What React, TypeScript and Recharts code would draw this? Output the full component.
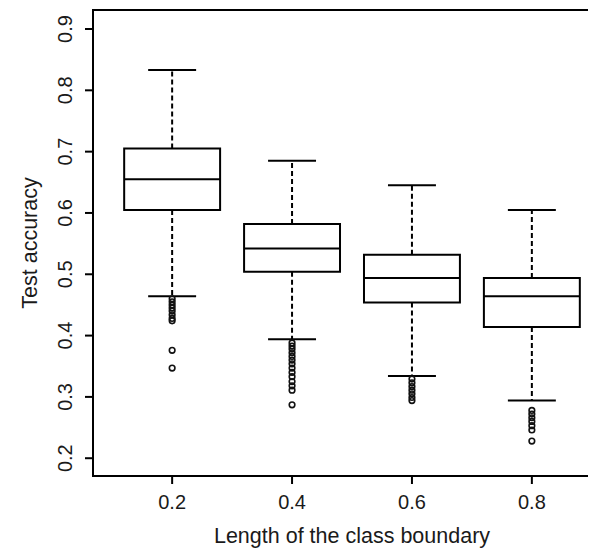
import React from "react";
import {
  ComposedChart,
  Scatter,
  XAxis,
  YAxis,
  ReferenceArea,
  ReferenceLine,
} from "recharts";

// boxplot stats
const positions = [0.2, 0.4, 0.6, 0.8];
const whiskerHigh = [0.833, 0.685, 0.645, 0.605];
const upperQuartile = [0.705, 0.582, 0.532, 0.494];
const medians = [0.655, 0.542, 0.494, 0.464];
const lowerQuartile = [0.605, 0.504, 0.454, 0.414];
const whiskerLow = [0.464, 0.394, 0.334, 0.294];

const outliers02 = [0.46, 0.455, 0.45, 0.445, 0.44, 0.434, 0.428, 0.424, 0.376, 0.347];
const outliers04 = [0.388, 0.383, 0.378, 0.372, 0.366, 0.36, 0.354, 0.347, 0.34, 0.333, 0.325, 0.318, 0.311, 0.287];
const outliers06 = [0.329, 0.323, 0.317, 0.311, 0.305, 0.299, 0.294];
const outliers08 = [0.278, 0.272, 0.266, 0.26, 0.253, 0.246, 0.228];

const xTicks = [0.2, 0.4, 0.6, 0.8];
const yTicks = [0.2, 0.3, 0.4, 0.5, 0.6, 0.7, 0.8, 0.9];

const BOX_HALF = 0.08;
const CAP_HALF = 0.04;
const FONT = "'Liberation Sans', Arial, Helvetica, sans-serif";
const INK = "#1a1a1a";

const outlierData = [outliers02, outliers04, outliers06, outliers08].flatMap((vals, i) =>
  vals.map((v) => ({ x: positions[i], y: v }))
);

const YTick = (props: any) => {
  const { x, y, payload } = props;
  const bx = x - 11;
  return (
    <text
      x={bx}
      y={y}
      transform={`rotate(-90, ${bx}, ${y})`}
      textAnchor="middle"
      fontSize={20}
      fontFamily={FONT}
      fill={INK}
    >
      {payload.value.toFixed(1)}
    </text>
  );
};

const XTick = (props: any) => {
  const { x, y, payload } = props;
  return (
    <text x={x} y={y + 23} textAnchor="middle" fontSize={20} fontFamily={FONT} fill={INK}>
      {payload.value.toFixed(1)}
    </text>
  );
};

const Ring = (props: any) => {
  const { cx, cy } = props;
  return <circle cx={cx} cy={cy} r={2.8} fill="none" stroke="#111" strokeWidth={1.6} />;
};

export default function App() {
  return (
    <div style={{ width: 588, height: 540, overflow: "hidden" }}>
      <ComposedChart
        width={640}
        height={540}
        margin={{ top: 2, right: 37, left: 0, bottom: 0 }}
      >
        <XAxis
          type="number"
          dataKey="x"
          domain={[0.068, 0.932]}
          ticks={xTicks}
          allowDataOverflow
          axisLine={false}
          tickSize={8}
          tickLine={{ stroke: "#000", strokeWidth: 2 }}
          tick={<XTick />}
          height={72}
          label={{
            content: (p: any) => (
              <text
                x={p.viewBox.x + p.viewBox.width / 2}
                y={535}
                textAnchor="middle"
                fontSize={21.5}
                fontFamily={FONT}
                fill={INK}
              >
                Length of the class boundary
              </text>
            ),
          }}
        />
        <YAxis
          type="number"
          dataKey="y"
          domain={[0.171, 0.931]}
          ticks={yTicks}
          allowDataOverflow
          axisLine={false}
          tickSize={8}
          tickLine={{ stroke: "#000", strokeWidth: 2 }}
          tick={<YTick />}
          width={85}
          label={{
            content: (p: any) => {
              const cy = p.viewBox.y + p.viewBox.height / 2;
              return (
                <text
                  x={29}
                  y={cy}
                  transform={`rotate(-90, 29, ${cy})`}
                  textAnchor="middle"
                  fontSize={21.5}
                  fontFamily={FONT}
                  fill={INK}
                >
                  Test accuracy
                </text>
              );
            },
          }}
        />

        {positions.map((p, i) => (
          <ReferenceLine
            key={`wu${i}`}
            segment={[{ x: p, y: upperQuartile[i] }, { x: p, y: whiskerHigh[i] }]}
            stroke="#000"
            strokeWidth={2}
            strokeDasharray="5 3"
            ifOverflow="visible"
          />
        ))}
        {positions.map((p, i) => (
          <ReferenceLine
            key={`wl${i}`}
            segment={[{ x: p, y: lowerQuartile[i] }, { x: p, y: whiskerLow[i] }]}
            stroke="#000"
            strokeWidth={2}
            strokeDasharray="5 3"
            ifOverflow="visible"
          />
        ))}
        {positions.map((p, i) => (
          <ReferenceLine
            key={`cu${i}`}
            segment={[{ x: p - CAP_HALF, y: whiskerHigh[i] }, { x: p + CAP_HALF, y: whiskerHigh[i] }]}
            stroke="#000"
            strokeWidth={2}
            ifOverflow="visible"
          />
        ))}
        {positions.map((p, i) => (
          <ReferenceLine
            key={`cl${i}`}
            segment={[{ x: p - CAP_HALF, y: whiskerLow[i] }, { x: p + CAP_HALF, y: whiskerLow[i] }]}
            stroke="#000"
            strokeWidth={2}
            ifOverflow="visible"
          />
        ))}
        {positions.map((p, i) => (
          <ReferenceArea
            key={`b${i}`}
            x1={p - BOX_HALF}
            x2={p + BOX_HALF}
            y1={lowerQuartile[i]}
            y2={upperQuartile[i]}
            fill="#fff"
            fillOpacity={1}
            stroke="#000"
            strokeWidth={2}
            ifOverflow="visible"
          />
        ))}
        {positions.map((p, i) => (
          <ReferenceLine
            key={`m${i}`}
            segment={[{ x: p - BOX_HALF, y: medians[i] }, { x: p + BOX_HALF, y: medians[i] }]}
            stroke="#000"
            strokeWidth={2}
            ifOverflow="visible"
          />
        ))}

        <ReferenceArea
          x1={0.068}
          x2={0.932}
          y1={0.171}
          y2={0.931}
          fill="none"
          stroke="#000"
          strokeWidth={2}
          ifOverflow="visible"
        />

        <Scatter data={outlierData} shape={<Ring />} isAnimationActive={false} />
      </ComposedChart>
    </div>
  );
}
